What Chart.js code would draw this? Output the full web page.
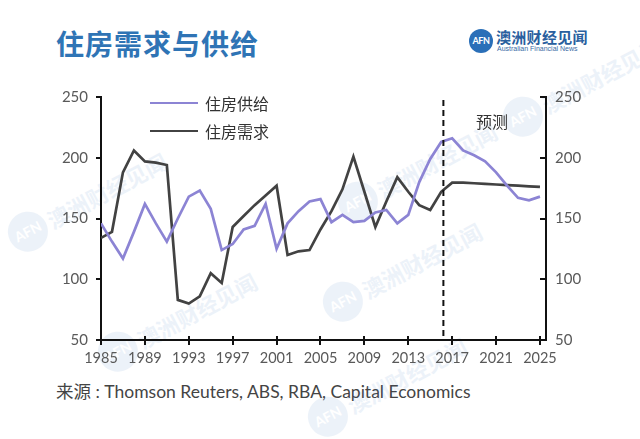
<!DOCTYPE html>
<html>
<head>
<meta charset="utf-8">
<script src="https://cdn.jsdelivr.net/npm/chart.js@4/dist/chart.umd.min.js"></script>
<style>
  body { margin:0; width:640px; height:439px; background:#fff; position:relative; overflow:hidden; font-family:"Noto Sans CJK SC", sans-serif; }
  #wrap { position:absolute; left:0; top:0; width:640px; height:439px; z-index:2; }
  .title { position:absolute; left:56px; top:23px; font-size:28px; font-weight:bold; color:#2f74b5; letter-spacing:1px; }
  .logo { position:absolute; left:469px; top:29px; }
  .logo .dot { position:absolute; left:0; top:0; width:24px; height:24px; border-radius:50%; background:#2a6fb8; color:#fff; font:bold 9px Lato, sans-serif; text-align:center; line-height:24px; letter-spacing:-0.5px; }
  .logo .cn { position:absolute; left:27px; top:-3px; font-size:15px; font-weight:bold; color:#2a5f9e; white-space:nowrap; letter-spacing:0.3px; }
  .logo .en { position:absolute; left:28px; top:16px; font:7px "Liberation Sans", sans-serif; color:#3a6aa5; white-space:nowrap; }
  #legend { position:absolute; left:150px; top:89px; z-index:3; }
  .leg { display:flex; align-items:center; height:28px; font-size:16px; color:#333; }
  .leg span.ln { display:inline-block; width:48px; height:2.5px; margin-right:7px; }
  .fc { position:absolute; left:476px; top:109px; font-size:16px; color:#333; z-index:3; }
  .src { position:absolute; left:56px; top:378px; font-size:17.5px; color:#444; font-family:Lato, "Noto Sans CJK SC", sans-serif; }
  .wm { position:absolute; transform:rotate(-28deg); opacity:0.09; white-space:nowrap; z-index:1; }
  .wm .d { display:inline-block; width:40px; height:40px; border-radius:50%; background:#3a78c0; color:#fff; font:bold 14px Lato, sans-serif; text-align:center; line-height:40px; vertical-align:middle; }
  .wm .t { display:inline-block; font-size:22px; font-weight:bold; color:#3a78c0; vertical-align:middle; margin-left:3px; }
</style>
</head>
<body>
<div id="wrap"><canvas id="c" width="640" height="439"></canvas></div>
<div class="wm" style="left:0px;top:180px"><span class="d">AFN</span><span class="t">澳洲财经见闻</span></div>
<div class="wm" style="left:90px;top:300px"><span class="d">AFN</span><span class="t">澳洲财经见闻</span></div>
<div class="wm" style="left:330px;top:150px"><span class="d">AFN</span><span class="t">澳洲财经见闻</span></div>
<div class="wm" style="left:315px;top:250px"><span class="d">AFN</span><span class="t">澳洲财经见闻</span></div>
<div class="wm" style="left:300px;top:365px"><span class="d">AFN</span><span class="t">澳洲财经见闻</span></div>
<div class="wm" style="left:495px;top:65px"><span class="d">AFN</span><span class="t">澳洲财经见闻</span></div>
<div class="title">住房需求与供给</div>
<div class="logo"><div class="dot">AFN</div><div class="cn">澳洲财经见闻</div><div class="en">Australian Financial News</div></div>
<div id="legend"></div>
<div class="fc">预测</div>
<div class="src">来源 : Thomson Reuters, ABS, RBA, Capital Economics</div>
<script>
// data
const years = [1985,1986,1987,1988,1989,1990,1991,1992,1993,1994,1995,1996,1997,1998,1999,2000,
  2001,2002,2003,2004,2005,2006,2007,2008,2009,2010,2011,2012,2013,2014,2015,2016,2017,2018,2019,2020,
  2021,2022,2023,2024,2025];
const supply = [146,131,117,139,162,146,131,150,168,173,158,124,129,141,144,162,
  125,146,156,164,166,147,153,147,148,155,157,146,153,180,199,213,216,206,202,197,
  188,177,167,165,168];
const demand = [134,139,188,206,197,196,194,83,80,86,105,97,143,152,161,169,
  177,120,123,124,141,156,174,201,172,143,164,184,172,161,157,172,179.5,179.5,179,178.5,
  178,177.5,177,176.5,176];
const xTicks = [1985,1989,1993,1997,2001,2005,2009,2013,2017,2021,2025];
const yTicks = [50,100,150,200,250];
const forecastStart = 2016.2;
const names = ['住房供给','住房需求'];
const colors = ['#8c84d4','#424242'];

// legend
const legendBox = document.getElementById('legend');
names.forEach((n, i) => {
  legendBox.innerHTML += `<div class="leg"><span class="ln" style="background:${colors[i]}"></span>${n}</div>`;
});

const pts = arr => arr.map((v, i) => ({ x: years[i], y: v }));

// forecast line + tick marks
const extras = {
  id: 'extras',
  afterDraw(chart) {
    const ctx = chart.ctx, a = chart.chartArea;
    const xs = chart.scales.x, yl = chart.scales.y, yr = chart.scales.y2;
    ctx.save();
    ctx.strokeStyle = '#111';
    ctx.lineWidth = 2;
    // x ticks crossing the axis
    xTicks.forEach(t => {
      const px = Math.round(xs.getPixelForValue(t));
      ctx.beginPath(); ctx.moveTo(px, a.bottom - 4); ctx.lineTo(px, a.bottom + 5); ctx.stroke();
    });
    yTicks.forEach(t => {
      const py = Math.round(yl.getPixelForValue(t));
      ctx.beginPath(); ctx.moveTo(a.left - 5, py); ctx.lineTo(a.left, py); ctx.stroke();
      const pr = Math.round(yr.getPixelForValue(t));
      ctx.beginPath(); ctx.moveTo(a.right - 6, pr); ctx.lineTo(a.right, pr); ctx.stroke();
    });
    // forecast divider
    const fx = xs.getPixelForValue(forecastStart);
    ctx.setLineDash([6, 4]);
    ctx.beginPath(); ctx.moveTo(fx, a.top + 3); ctx.lineTo(fx, a.bottom); ctx.stroke();
    ctx.restore();
  }
};

new Chart(document.getElementById('c'), {
  type: 'line',
  data: {
    datasets: [
      { label: names[0], data: pts(supply), borderColor: colors[0], borderWidth: 2.7, pointRadius: 0, tension: 0, yAxisID: 'y' },
      { label: names[1], data: pts(demand), borderColor: colors[1], borderWidth: 2.7, pointRadius: 0, tension: 0, yAxisID: 'y' }
    ]
  },
  options: {
    responsive: false,
    animation: false,
    layout: { padding: { left: 40, right: 44, top: 97, bottom: 69 } },
    plugins: { legend: { display: false }, tooltip: { enabled: false } },
    scales: {
      x: {
        type: 'linear', min: 1985, max: 2025.55,
        afterBuildTicks: s => { s.ticks = xTicks.map(v => ({ value: v })); },
        afterFit: s => { s.height = 30; },
        grid: { display: false, drawTicks: false },
        border: { color: '#111', width: 2 },
        ticks: { padding: 10, color: '#595959', font: { family: 'Lato', size: 14.5 }, maxRotation: 0, autoSkip: false, callback: v => String(v) }
      },
      y: {
        position: 'left', min: 50, max: 250,
        afterBuildTicks: s => { s.ticks = yTicks.map(v => ({ value: v })); },
        afterFit: s => { s.width = 61; },
        grid: { display: false, drawTicks: false },
        border: { color: '#111', width: 2 },
        ticks: { padding: 13, color: '#595959', font: { family: 'Lato', size: 15 } }
      },
      y2: {
        position: 'right', min: 50, max: 250,
        afterBuildTicks: s => { s.ticks = yTicks.map(v => ({ value: v })); },
        afterFit: s => { s.width = 50; },
        grid: { display: false, drawTicks: false },
        border: { color: '#111', width: 2 },
        ticks: { padding: 9, color: '#595959', font: { family: 'Lato', size: 15 } }
      }
    }
  },
  plugins: [extras]
});
</script>
</body>
</html>
